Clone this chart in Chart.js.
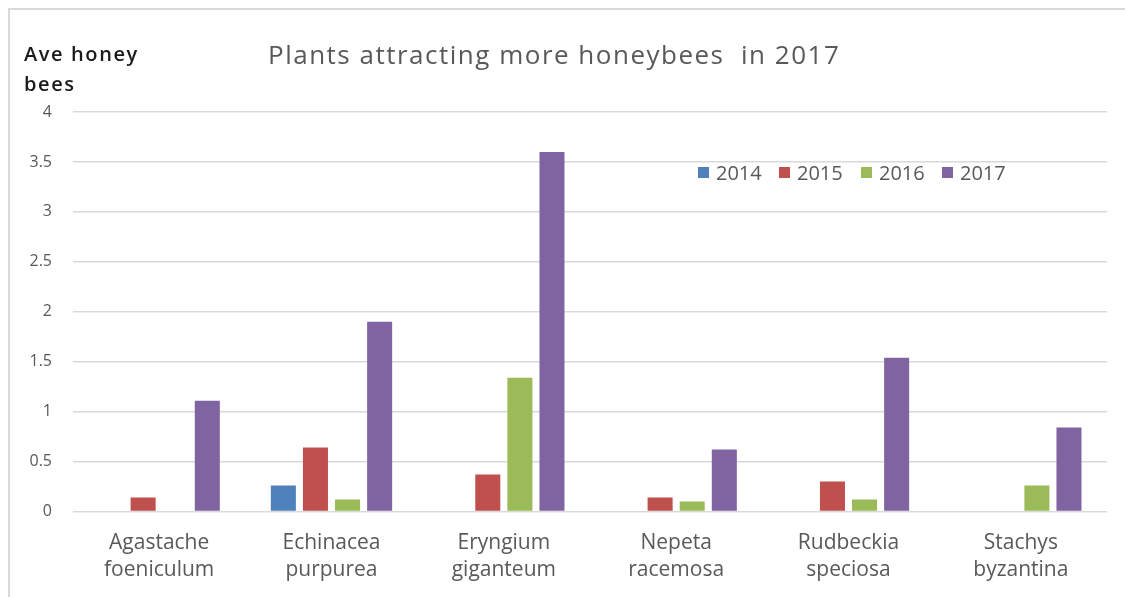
<!DOCTYPE html>
<html>
<head>
<meta charset="utf-8">
<script src="https://cdn.jsdelivr.net/npm/chart.js@4.4.1/dist/chart.umd.min.js"></script>
<style>
  html, body { margin: 0; padding: 0; background: #fff; }
  #wrap { position: relative; width: 1125px; height: 597px; overflow: hidden; }
  #frame { position: absolute; left: 8px; top: 8px; width: 1200px; height: 700px;
           border-left: 2px solid #d9d9d9; border-top: 2px solid #d9d9d9; }
  canvas { position: absolute; left: 0; top: 0; }
</style>
</head>
<body>
<div id="wrap">
  <div id="frame"></div>
  <canvas id="c" width="1125" height="597"></canvas>
</div>
<script>
// Plant species observed, split over two label lines
const plants = [
  ['Agastache', 'foeniculum'],
  ['Echinacea', 'purpurea'],
  ['Eryngium', 'giganteum'],
  ['Nepeta', 'racemosa'],
  ['Rudbeckia', 'speciosa'],
  ['Stachys', 'byzantina']
];
const years = ['2014', '2015', '2016', '2017'];
// Average honey bees per plant, by year
const bees2014 = [0, 0.26, 0, 0, 0, 0];
const bees2015 = [0.14, 0.64, 0.37, 0.14, 0.30, 0];
const bees2016 = [0, 0.12, 1.34, 0.10, 0.12, 0.26];
const bees2017 = [1.11, 1.90, 3.60, 0.62, 1.54, 0.84];
const yTicks = [0, 0.5, 1, 1.5, 2, 2.5, 3, 3.5, 4];

const colors = ['#4F81BD', '#C0504D', '#9BBB59', '#8064A2'];
const series = [bees2014, bees2015, bees2016, bees2017];
const FONT = '"Open Sans", "DejaVu Sans", sans-serif';
const GREY = '#595959';

// Title, axis caption and the in-plot legend
const decorations = {
  id: 'decorations',
  afterDraw(chart) {
    const ctx = chart.ctx;
    ctx.save();
    ctx.textBaseline = 'middle';
    ctx.fillStyle = GREY;
    ctx.font = '26px ' + FONT;
    ctx.letterSpacing = '1.5px';
    ctx.textAlign = 'left';
    ctx.fillText('Plants attracting more honeybees  in 2017', 268, 57);

    ctx.fillStyle = '#1a1a1a';
    ctx.font = '600 20px ' + FONT;
    ctx.letterSpacing = '1.6px';
    ctx.fillText('Ave honey', 24, 55);
    ctx.fillText('bees', 24, 85);

    const lx = [698, 779, 861, 942];
    ctx.font = '20px ' + FONT;
    ctx.letterSpacing = '0px';
    chart.data.datasets.forEach((ds, i) => {
      ctx.fillStyle = ds.backgroundColor;
      ctx.fillRect(lx[i], 167, 11, 11);
      ctx.fillStyle = GREY;
      ctx.fillText(ds.label, lx[i] + 18, 174);
    });
    ctx.restore();
  }
};

new Chart(document.getElementById('c'), {
  type: 'bar',
  data: {
    labels: plants,
    datasets: years.map((y, i) => ({
      label: y,
      data: series[i],
      backgroundColor: colors[i],
      borderWidth: 0,
      barPercentage: 0.78,
      categoryPercentage: 0.745
    }))
  },
  options: {
    responsive: false,
    animation: false,
    devicePixelRatio: 1,
    layout: { padding: { left: 0, right: 18, top: 112, bottom: 0 } },
    plugins: {
      legend: { display: false },
      title: { display: false },
      tooltip: { enabled: false }
    },
    scales: {
      x: {
        grid: { display: false, drawTicks: false },
        border: { display: false },
        ticks: {
          color: GREY,
          font: { family: FONT, size: 21, lineHeight: 1.29 },
          padding: 18,
          maxRotation: 0,
          autoSkip: false
        },
        afterFit(s) { s.height = 85.5; }
      },
      y: {
        min: 0,
        max: 4,
        afterBuildTicks(s) { s.ticks = yTicks.map(v => ({ value: v })); },
        grid: { color: '#d9d9d9', lineWidth: 1.5, drawTicks: false },
        border: { display: false },
        ticks: {
          color: GREY,
          font: { family: FONT, size: 16 },
          padding: 21,
          callback: v => String(v)
        },
        afterFit(s) { s.width = 73; }
      }
    }
  },
  plugins: [decorations]
});
</script>
</body>
</html>
